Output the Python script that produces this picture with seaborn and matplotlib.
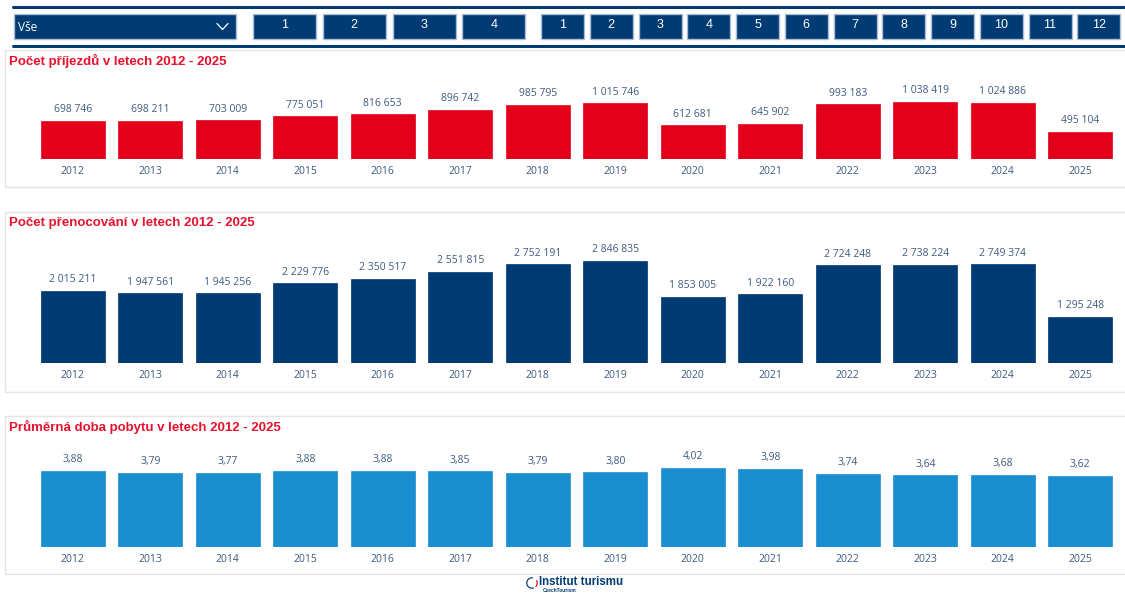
import matplotlib
matplotlib.use("Agg")
import matplotlib.pyplot as plt
import seaborn as sns
import pandas as pd
from matplotlib.patches import Rectangle, Wedge
from matplotlib.lines import Line2D

sns.set_theme(style="white")
plt.rcParams['font.family'] = ['Open Sans', 'DejaVu Sans']

years = [str(y) for y in range(2012, 2026)]
arrivals = [698746, 698211, 703009, 775051, 816653, 896742, 985795, 1015746,
            612681, 645902, 993183, 1038419, 1024886, 495104]
nights = [2015211, 1947561, 1945256, 2229776, 2350517, 2551815, 2752191, 2846835,
          1853005, 1922160, 2724248, 2738224, 2749374, 1295248]
avg_stay = [3.88, 3.79, 3.77, 3.88, 3.88, 3.85, 3.79, 3.80, 4.02, 3.98, 3.74, 3.64, 3.68, 3.62]

titles = ["Počet příjezdů v letech 2012 - 2025",
          "Počet přenocování v letech 2012 - 2025",
          "Průměrná doba pobytu v letech 2012 - 2025"]
months_q = ["1", "2", "3", "4"]
months = [str(m) for m in range(1, 13)]

W, H = 1125, 596
NAVY = "#003b73"
RED = "#e3001b"
LBLUE = "#1a8ecf"
TXT = "#3d5b80"
TITLE_RED = "#e8112d"

fig = plt.figure(figsize=(W / 100, H / 100), dpi=100)


def fx(x):
    return x / W


def fy(y):
    return 1 - y / H


def rect(x0, y0, x1, y1, zorder=1, **kw):
    r = Rectangle((fx(x0), fy(y1)), fx(x1 - x0), (y1 - y0) / H, transform=fig.transFigure,
                  zorder=zorder, **kw)
    fig.add_artist(r)
    return r


# Header lines
for yy in (7, 46):
    fig.add_artist(Line2D([fx(13), fx(1125)], [fy(yy), fy(yy)], color=NAVY, lw=2.2,
                          transform=fig.transFigure))

# Dropdown
rect(14, 14, 236, 39, facecolor=NAVY, edgecolor="#a9bdd4", lw=1)
fig.text(fx(18), fy(27.5), "Vše", color="white", fontsize=8.5, va="center", ha="left", zorder=3)
fig.add_artist(Line2D([fx(217), fx(222.5), fx(228)], [fy(23.5), fy(29.5), fy(23.5)], color="white",
                      lw=0.9, transform=fig.transFigure, zorder=3))

# Quarter buttons
for i, lab in enumerate(months_q):
    x0 = 253 + i * 69.8
    rect(x0, 13.5, x0 + 63, 38.5, facecolor=NAVY, edgecolor="#a9bdd4", lw=1)
    fig.text(fx(x0 + 31.5), fy(25.5), lab, color="white", fontsize=9, ha="center", va="center",
             family="Liberation Sans", zorder=3)

# Month buttons
for i, lab in enumerate(months):
    x0 = 541 + i * 48.75
    rect(x0, 13.5, x0 + 43, 38.5, facecolor=NAVY, edgecolor="#a9bdd4", lw=1)
    fig.text(fx(x0 + 21.5), fy(25.5), lab, color="white", fontsize=9, ha="center", va="center",
             family="Liberation Sans", zorder=3)

# Cards
cards = [(50, 187), (212, 392), (416, 574)]
for (t, b), title in zip(cards, titles):
    rect(5, t, 1135, b, zorder=-5, facecolor="white", edgecolor="#e4e4e4", lw=1)
    fig.text(fx(9), fy(t + 11), title, color=TITLE_RED, fontsize=9.5, fontweight="bold",
             family="Liberation Sans", ha="left", va="center")

# Axes (top, baseline, ymax)
specs = [
    (arrivals, RED, 85, 159, 1348000, lambda v: f"{v:,}".replace(",", " ")),
    (nights, NAVY, 245, 363, 3293000, lambda v: f"{v:,}".replace(",", " ")),
    (avg_stay, LBLUE, 450, 547, 4.936, lambda v: f"{v:.2f}".replace(".", ",")),
]

for vals, col, top, base, ymax, fmt in specs:
    ax = fig.add_axes([fx(34), fy(base), fx(1119 - 34), (base - top) / H])
    df = pd.DataFrame({"year": years, "value": vals})
    sns.barplot(data=df, x="year", y="value", color=col, saturation=1, width=0.83,
                ax=ax, edgecolor=col, linewidth=0.5)
    ax.set_ylim(0, ymax)
    ax.set_xlim(-0.5, len(years) - 0.5)
    for s in ax.spines.values():
        s.set_visible(False)
    ax.set_yticks([])
    ax.set_xlabel("")
    ax.set_ylabel("")
    ax.tick_params(axis="x", length=0, pad=5, labelsize=7.5, labelcolor=TXT)
    ax.patch.set_alpha(0)
    ax.bar_label(ax.containers[0], labels=[fmt(v) for v in vals], padding=4,
                 fontsize=7.5, color=TXT)

# Logo
cx, cy, r = 532, 583, 6.5
ax_logo = fig.add_axes([fx(cx - r), fy(cy + r), fx(2 * r), 2 * r / H])
ax_logo.set_xlim(-1, 1)
ax_logo.set_ylim(-1, 1)
ax_logo.axis("off")
ax_logo.add_patch(Wedge((0, 0), 1, 70, 300, width=0.4, facecolor=NAVY))
ax_logo.add_patch(Wedge((0, 0), 1, -55, 40, width=0.4, facecolor="#e3001b"))
fig.text(fx(539), fy(582), "Institut turismu", color=NAVY, fontsize=8.3, fontweight="bold",
         family="Liberation Sans", ha="left", va="center")
fig.text(fx(543), fy(591), "CzechTourism", color=NAVY, fontsize=3.5, fontweight="bold",
         family="Liberation Sans", ha="left", va="center")

fig.savefig("out.png", dpi=100, facecolor="white")
